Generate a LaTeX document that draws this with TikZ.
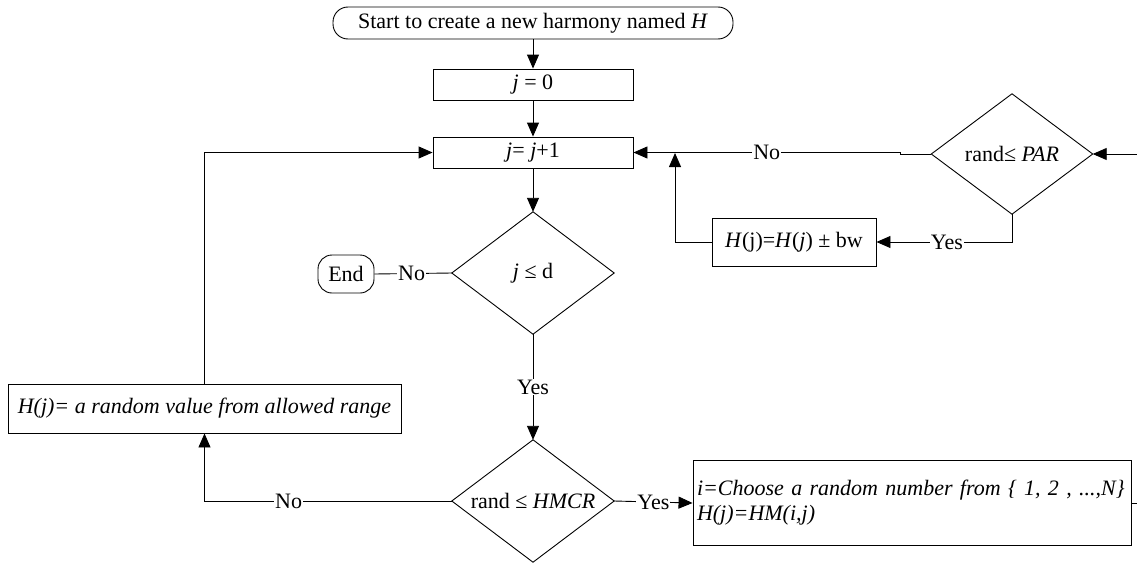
\documentclass[tikz,border=0pt]{standalone}
\usepackage{fontspec}
\setmainfont{Liberation Serif}[ItalicFont={Liberation Serif Italic}, BoldFont={Liberation Serif Bold}]
\usetikzlibrary{arrows.meta}
\begin{document}
\begin{tikzpicture}[x=1pt,y=-1pt,
  every node/.style={font=\fontsize{22}{26}\selectfont, inner sep=0pt},
  box/.style={draw, line width=0.9pt, rectangle},
  dia/.style={rectangle, draw=none, minimum width=162pt, minimum height=122pt},
  lbl/.style={fill=white, inner sep=1pt},
  line/.style={line width=0.9pt},
  arr/.style={line width=0.9pt, -{Triangle[length=14pt,width=12pt]}}
]
\useasboundingbox (0,0) rectangle (1137,562);
% nodes
\node[box, rounded corners=15pt, minimum width=400pt, minimum height=32pt] (start) at (533,23) {Start to create a new harmony named \textit{H}};
\node[box, minimum width=200pt, minimum height=31pt] (j0) at (533,84.5) {\textit{j} = 0};
\node[box, minimum width=200pt, minimum height=31pt] (j1) at (533,152.5) {\textit{j}= \textit{j}+1};
\node[dia] (d1) at (533,273) {\textit{j} ≤ d};
\draw[line] (d1.west) -- (d1.north) -- (d1.east) -- (d1.south) -- cycle;
\node[box, rounded corners=14pt, minimum width=56pt, minimum height=38pt] (end) at (346,274) {End};
\node[box, minimum width=393pt, minimum height=49pt] (rnd) at (204.5,408.5) {\textit{H(j)= a random value from allowed range}};
\node[dia] (d2) at (533,501) {rand ≤ \textit{HMCR}};
\draw[line] (d2.west) -- (d2.north) -- (d2.east) -- (d2.south) -- cycle;
\node[box, minimum width=438pt, minimum height=85pt, align=left, text width=430pt, inner sep=0pt] (hm) at (912,503) {\textit{i=Choose a random number from \{ 1, 2 , ...,N\}}\\[-1pt]\textit{H(j)=HM(i,j)}};
\node[rectangle, draw=none, minimum width=161pt, minimum height=120pt] (par) at (1012,154) {rand≤ \textit{PAR}};
\draw[line] (par.west) -- (par.north) -- (par.east) -- (par.south) -- cycle;
\node[box, minimum width=164pt, minimum height=48pt] (bw) at (794,242) {\textit{H}(j)=\textit{H}(\textit{j}) ± bw};
\coordinate (parin) at (1137,154);
\coordinate (hmout) at (1137,503);
\coordinate (jog) at (900,154);
\coordinate (bwturn) at (675,242);
\coordinate (bwtop) at (675,153);
% connectors
\draw[arr] (start) -- (j0);
\draw[arr] (j0) -- (j1);
\draw[arr] (j1) -- (d1.north);
\draw[line] (d1.west) -- node[lbl, pos=0.52]{No} (end.east);
\draw[arr] (d1.south) -- node[lbl, pos=0.5]{Yes} (d2.north);
\draw[arr] (d2.east) -- node[lbl, pos=0.5]{Yes} (hm.west);
\draw[arr] (d2.west) -- node[lbl, pos=0.66]{No} (d2.west -| rnd.south) -- (rnd.south);
\draw[arr] (rnd.north) |- (j1.west);
\draw[arr] (parin) -- (par.east);
\draw[arr] (par.west) -- (jog) -- (jog |- j1.east) -- node[lbl, pos=0.5]{No} (j1.east);
\draw[arr] (par.south) |- node[lbl, pos=0.74]{Yes} (bw.east);
\draw[arr] (bw.west) -- (bwturn) -- (bwtop);
\draw[line] (hm.east |- hmout) -- (hmout);
\end{tikzpicture}
\end{document}
